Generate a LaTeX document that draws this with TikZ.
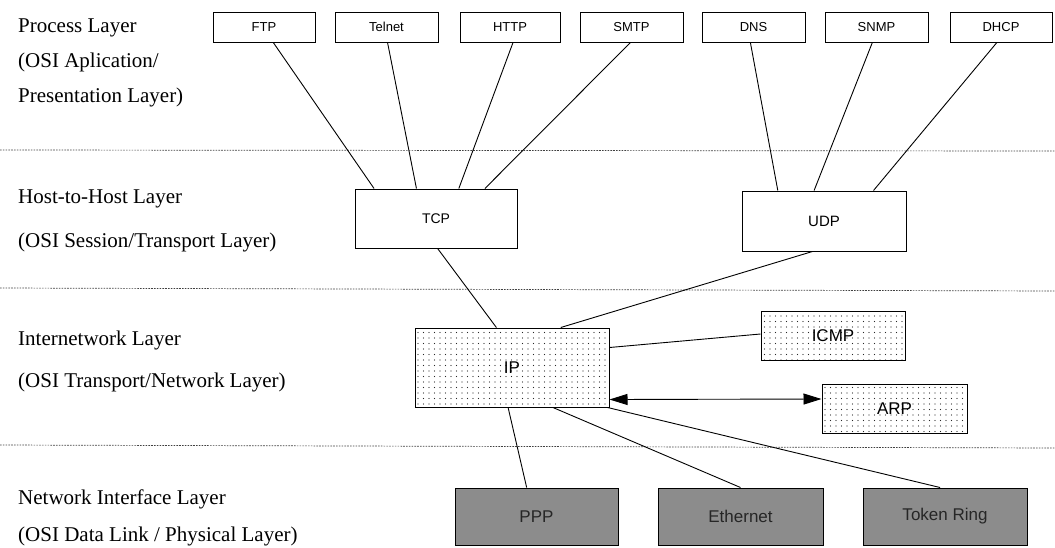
\documentclass[tikz,border=0pt]{standalone}
\usepackage{fontspec}
\setmainfont{Liberation Serif}
\newfontfamily\boxfont{Liberation Sans}
\usetikzlibrary{calc,arrows.meta,patterns.meta}
\begin{document}
\begin{tikzpicture}[x=1pt,y=-1pt,
  box/.style={draw,line width=1pt,inner sep=0pt,font=\boxfont\fontsize{13}{15}\selectfont},
  dotbox/.style={box,pattern={Dots[distance=5.5pt,radius=0.7pt]},pattern color=black!85,font=\boxfont\fontsize{17}{19}\selectfont},
  darkbox/.style={box,fill=black!45,text=black!85,font=\boxfont\fontsize{17}{19}\selectfont},
  conn/.style={line width=0.9pt},
  dbl/.style={conn,>={Triangle[length=18pt,width=11pt]},<->},
  sep/.style={line width=0.7pt,dash pattern=on 1.6pt off 1.2pt,black!75},
  lbl/.style={anchor=base west,inner sep=0pt,font=\fontsize{21}{24}\selectfont}]
\useasboundingbox (0,0) rectangle (1055,547);

% separators
\coordinate (s1l) at (0,150);  \coordinate (s1r) at (1055,151);
\coordinate (s2l) at (0,288);  \coordinate (s2r) at (1055,291);
\coordinate (s3l) at (0,445);  \coordinate (s3r) at (1055,448);
\draw[sep] (s1l) -- (s1r);
\draw[sep] (s2l) -- (s2r);
\draw[sep] (s3l) -- (s3r);

% layer labels
\node[lbl] (l1a) at (18,32) {Process Layer};
\node[lbl] (l1b) at (18,67) {(OSI Aplication/};
\node[lbl] (l1c) at (18,102) {Presentation Layer)};
\node[lbl] (l2a) at (18,203) {Host-to-Host Layer};
\node[lbl] (l2b) at (18,247) {(OSI Session/Transport Layer)};
\node[lbl] (l3a) at (18,345) {Internetwork Layer};
\node[lbl] (l3b) at (18,387) {(OSI Transport/Network Layer)};
\node[lbl] (l4a) at (18,504) {Network Interface Layer};
\node[lbl] (l4b) at (18,541) {(OSI Data Link / Physical Layer)};

% application boxes
\node[box,minimum width=102pt,minimum height=30pt] (ftp) at (264,27) {FTP};
\node[box,minimum width=103pt,minimum height=30pt] (telnet) at (386.5,27) {Telnet};
\node[box,minimum width=100pt,minimum height=30pt] (http) at (510,27) {HTTP};
\node[box,minimum width=103pt,minimum height=30pt] (smtp) at (631.5,27) {SMTP};
\node[box,minimum width=103pt,minimum height=30pt] (dns) at (753.5,27) {DNS};
\node[box,minimum width=103pt,minimum height=30pt] (snmp) at (876.5,27) {SNMP};
\node[box,minimum width=102pt,minimum height=30pt] (dhcp) at (1001,27) {DHCP};

% transport boxes
\node[box,minimum width=162pt,minimum height=59pt,font=\boxfont\fontsize{14}{16}\selectfont] (tcp) at (436,218.5) {TCP};
\node[box,minimum width=164pt,minimum height=60pt,font=\boxfont\fontsize{15}{17}\selectfont] (udp) at (824,221) {UDP};

% internet boxes
\node[dotbox,minimum width=194pt,minimum height=79pt] (ip) at (512,367.5) {IP};
\node[dotbox,minimum width=144pt,minimum height=49pt] (icmp) at (833,335.5) {ICMP};
\node[dotbox,minimum width=145pt,minimum height=49pt] (arp) at (894.5,408.5) {ARP};

% network interface boxes
\node[darkbox,minimum width=163pt,minimum height=57pt] (ppp) at (536.5,516.5) {PPP};
\node[darkbox,minimum width=165pt,minimum height=57pt] (eth) at (740.5,516.5) {Ethernet};
\node[darkbox,minimum width=164pt,minimum height=57pt] (tr) at (945,516.5) {Token Ring};

% application -> TCP/UDP
\draw[conn] ($(ftp.south west)!.59!(ftp.south east)$) -- ($(tcp.north west)!.12!(tcp.north east)$);
\draw[conn] ($(telnet.south west)!.51!(telnet.south east)$) -- ($(tcp.north west)!.38!(tcp.north east)$);
\draw[conn] ($(http.south west)!.53!(http.south east)$) -- ($(tcp.north west)!.64!(tcp.north east)$);
\draw[conn] ($(smtp.south west)!.49!(smtp.south east)$) -- ($(tcp.north west)!.80!(tcp.north east)$);
\draw[conn] ($(dns.south west)!.47!(dns.south east)$) -- ($(udp.north west)!.22!(udp.north east)$);
\draw[conn] ($(snmp.south west)!.46!(snmp.south east)$) -- ($(udp.north west)!.44!(udp.north east)$);
\draw[conn] ($(dhcp.south west)!.46!(dhcp.south east)$) -- ($(udp.north west)!.80!(udp.north east)$);

% TCP/UDP -> IP
\draw[conn] ($(tcp.south west)!.51!(tcp.south east)$) -- ($(ip.north west)!.42!(ip.north east)$);
\draw[conn] ($(udp.south west)!.43!(udp.south east)$) -- ($(ip.north west)!.75!(ip.north east)$);

% IP -> ICMP, ARP
\draw[conn] ($(ip.north east)!.25!(ip.south east)$) -- ($(icmp.north west)!.47!(icmp.south west)$);
\draw[dbl] ($(ip.north east)!.90!(ip.south east)$) -- ($(arp.north west)!.31!(arp.south west)$);

% IP -> network interfaces
\draw[conn] ($(ip.south west)!.48!(ip.south east)$) -- ($(ppp.north west)!.44!(ppp.north east)$);
\draw[conn] ($(ip.south west)!.71!(ip.south east)$) -- ($(eth.north west)!.50!(eth.north east)$);
\draw[conn] ($(ip.south west)!.99!(ip.south east)$) -- ($(tr.north west)!.47!(tr.north east)$);
\end{tikzpicture}
\end{document}
